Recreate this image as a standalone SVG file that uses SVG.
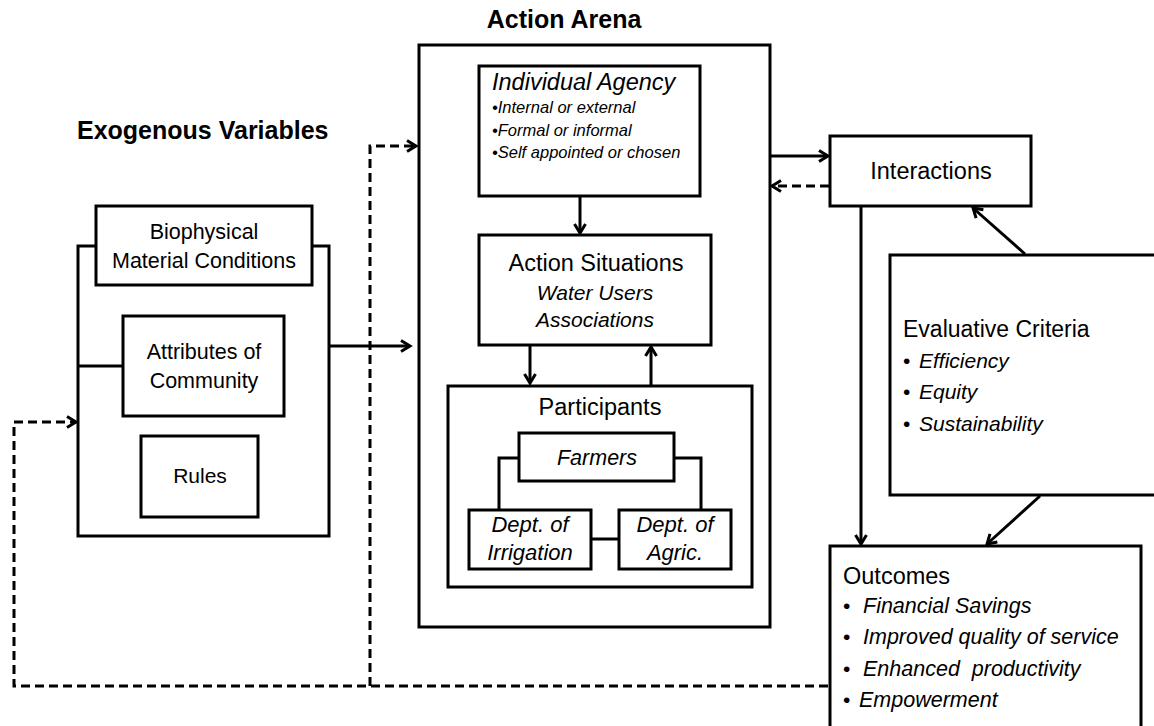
<svg xmlns="http://www.w3.org/2000/svg" width="1154" height="726" viewBox="0 0 1154 726">
<defs>
<marker id="ah" markerUnits="userSpaceOnUse" markerWidth="16" markerHeight="16" refX="12" refY="7" orient="auto">
<path d="M3,1.5 L12,7 L3,12.5" fill="none" stroke="#000" stroke-width="3"/>
</marker>
<style>
.box{fill:#fff;stroke:#000;stroke-width:3}
.ln{fill:none;stroke:#000;stroke-width:3}
.dash{fill:none;stroke:#000;stroke-width:3;stroke-dasharray:9,5}
text{font-family:"Liberation Sans",Arial,sans-serif;fill:#000}
.h{font-size:25px;font-weight:bold}
.i{font-style:italic}
</style>
</defs>
<rect width="1154" height="726" fill="#fff"/>

<g id="exogenous">
<text class="h" x="77" y="139">Exogenous Variables</text>
<path class="ln" d="M96,246 H78 V536 H329 V246 H312 M78,366 H123"/>
</g>
<g id="biophysical">
<rect class="box" x="96" y="206" width="216" height="79"/>
<text x="204" y="239" font-size="21.5" text-anchor="middle">Biophysical</text>
<text x="204" y="268" font-size="21.5" text-anchor="middle">Material Conditions</text>
</g>
<g id="attributes">
<rect class="box" x="123" y="316" width="161" height="100"/>
<text x="204" y="359" font-size="21.5" text-anchor="middle">Attributes of</text>
<text x="204" y="388" font-size="21.5" text-anchor="middle">Community</text>
</g>
<g id="rules">
<rect class="box" x="141" y="436" width="117" height="81"/>
<text x="200" y="483" font-size="21" text-anchor="middle">Rules</text>
</g>

<g id="action-arena">
<text class="h" x="564" y="28" text-anchor="middle">Action Arena</text>
<rect class="box" x="419" y="45" width="351" height="582"/>
</g>
<g id="individual-agency">
<rect class="box" x="479" y="66" width="221" height="130"/>
<text class="i" x="492" y="90" font-size="23.5">Individual Agency</text>
<text class="i" x="492" y="113" font-size="16.5">•Internal or external</text>
<text class="i" x="492" y="136" font-size="16.5">•Formal or informal</text>
<text class="i" x="492" y="158" font-size="16.5">•Self appointed or chosen</text>
</g>
<g id="action-situations">
<rect class="box" x="479" y="235" width="232" height="110"/>
<text x="596" y="271" font-size="23.5" text-anchor="middle">Action Situations</text>
<text class="i" x="595" y="300" font-size="21" text-anchor="middle">Water Users</text>
<text class="i" x="595" y="327" font-size="21" text-anchor="middle">Associations</text>
</g>
<g id="participants">
<rect class="box" x="448" y="386" width="304" height="201"/>
<text x="600" y="415" font-size="23.5" text-anchor="middle">Participants</text>
<path class="ln" d="M519,458 H499 V510 M674,458 H701 V510 M591,539 H619"/>
</g>
<g id="farmers">
<rect class="box" x="519" y="433" width="155" height="48"/>
<text class="i" x="597" y="465" font-size="21.5" text-anchor="middle">Farmers</text>
</g>
<g id="dept-irrigation">
<rect class="box" x="469" y="510" width="122" height="59"/>
<text class="i" x="530" y="532" font-size="22" text-anchor="middle">Dept. of</text>
<text class="i" x="530" y="560" font-size="22" text-anchor="middle">Irrigation</text>
</g>
<g id="dept-agric">
<rect class="box" x="619" y="510" width="112" height="59"/>
<text class="i" x="675" y="532" font-size="22" text-anchor="middle">Dept. of</text>
<text class="i" x="675" y="560" font-size="22" text-anchor="middle">Agric.</text>
</g>

<g id="interactions">
<rect class="box" x="830" y="136" width="201" height="70"/>
<text x="931" y="179" font-size="23.5" text-anchor="middle">Interactions</text>
</g>
<g id="evaluative-criteria">
<rect class="box" x="890" y="255" width="270" height="240"/>
<text x="903" y="337" font-size="23">Evaluative Criteria</text>
<text x="903" y="368" font-size="21">•</text><text class="i" x="919" y="368" font-size="21">Efficiency</text>
<text x="903" y="399" font-size="21">•</text><text class="i" x="919" y="399" font-size="21">Equity</text>
<text x="903" y="431" font-size="21">•</text><text class="i" x="919" y="431" font-size="21">Sustainability</text>
</g>
<g id="outcomes">
<rect class="box" x="830" y="546" width="311" height="190"/>
<text x="843" y="584" font-size="23.5">Outcomes</text>
<text x="843" y="613" font-size="21">•</text><text class="i" x="863" y="613" font-size="21.5">Financial Savings</text>
<text x="843" y="644" font-size="21">•</text><text class="i" x="863" y="644" font-size="21.5">Improved quality of service</text>
<text x="843" y="676" font-size="21">•</text><text class="i" x="863" y="676" font-size="21.5" xml:space="preserve">Enhanced  productivity</text>
<text x="843" y="707" font-size="21">•</text><text class="i" x="859" y="707" font-size="21.5">Empowerment</text>
</g>

<g id="connectors">
<path class="ln" d="M329,346 L410,346" marker-end="url(#ah)"/>
<path class="dash" d="M370,686 L370,146 L416,146" marker-end="url(#ah)"/>
<path class="dash" d="M828,686 L14,686 L14,422 L76,422" marker-end="url(#ah)"/>
<path class="ln" d="M580,197 L580,233" marker-end="url(#ah)"/>
<path class="ln" d="M530,346 L530,383" marker-end="url(#ah)"/>
<path class="ln" d="M651,385 L651,347" marker-end="url(#ah)"/>
<path class="ln" d="M771,156 L828,156" marker-end="url(#ah)"/>
<path class="dash" d="M829,186 L772,186" marker-end="url(#ah)"/>
<path class="ln" d="M861,207 L861,544" marker-end="url(#ah)"/>
<path class="ln" d="M1025,254 L973,208" marker-end="url(#ah)"/>
<path class="ln" d="M1040,496 L987,544" marker-end="url(#ah)"/>
</g>
</svg>
